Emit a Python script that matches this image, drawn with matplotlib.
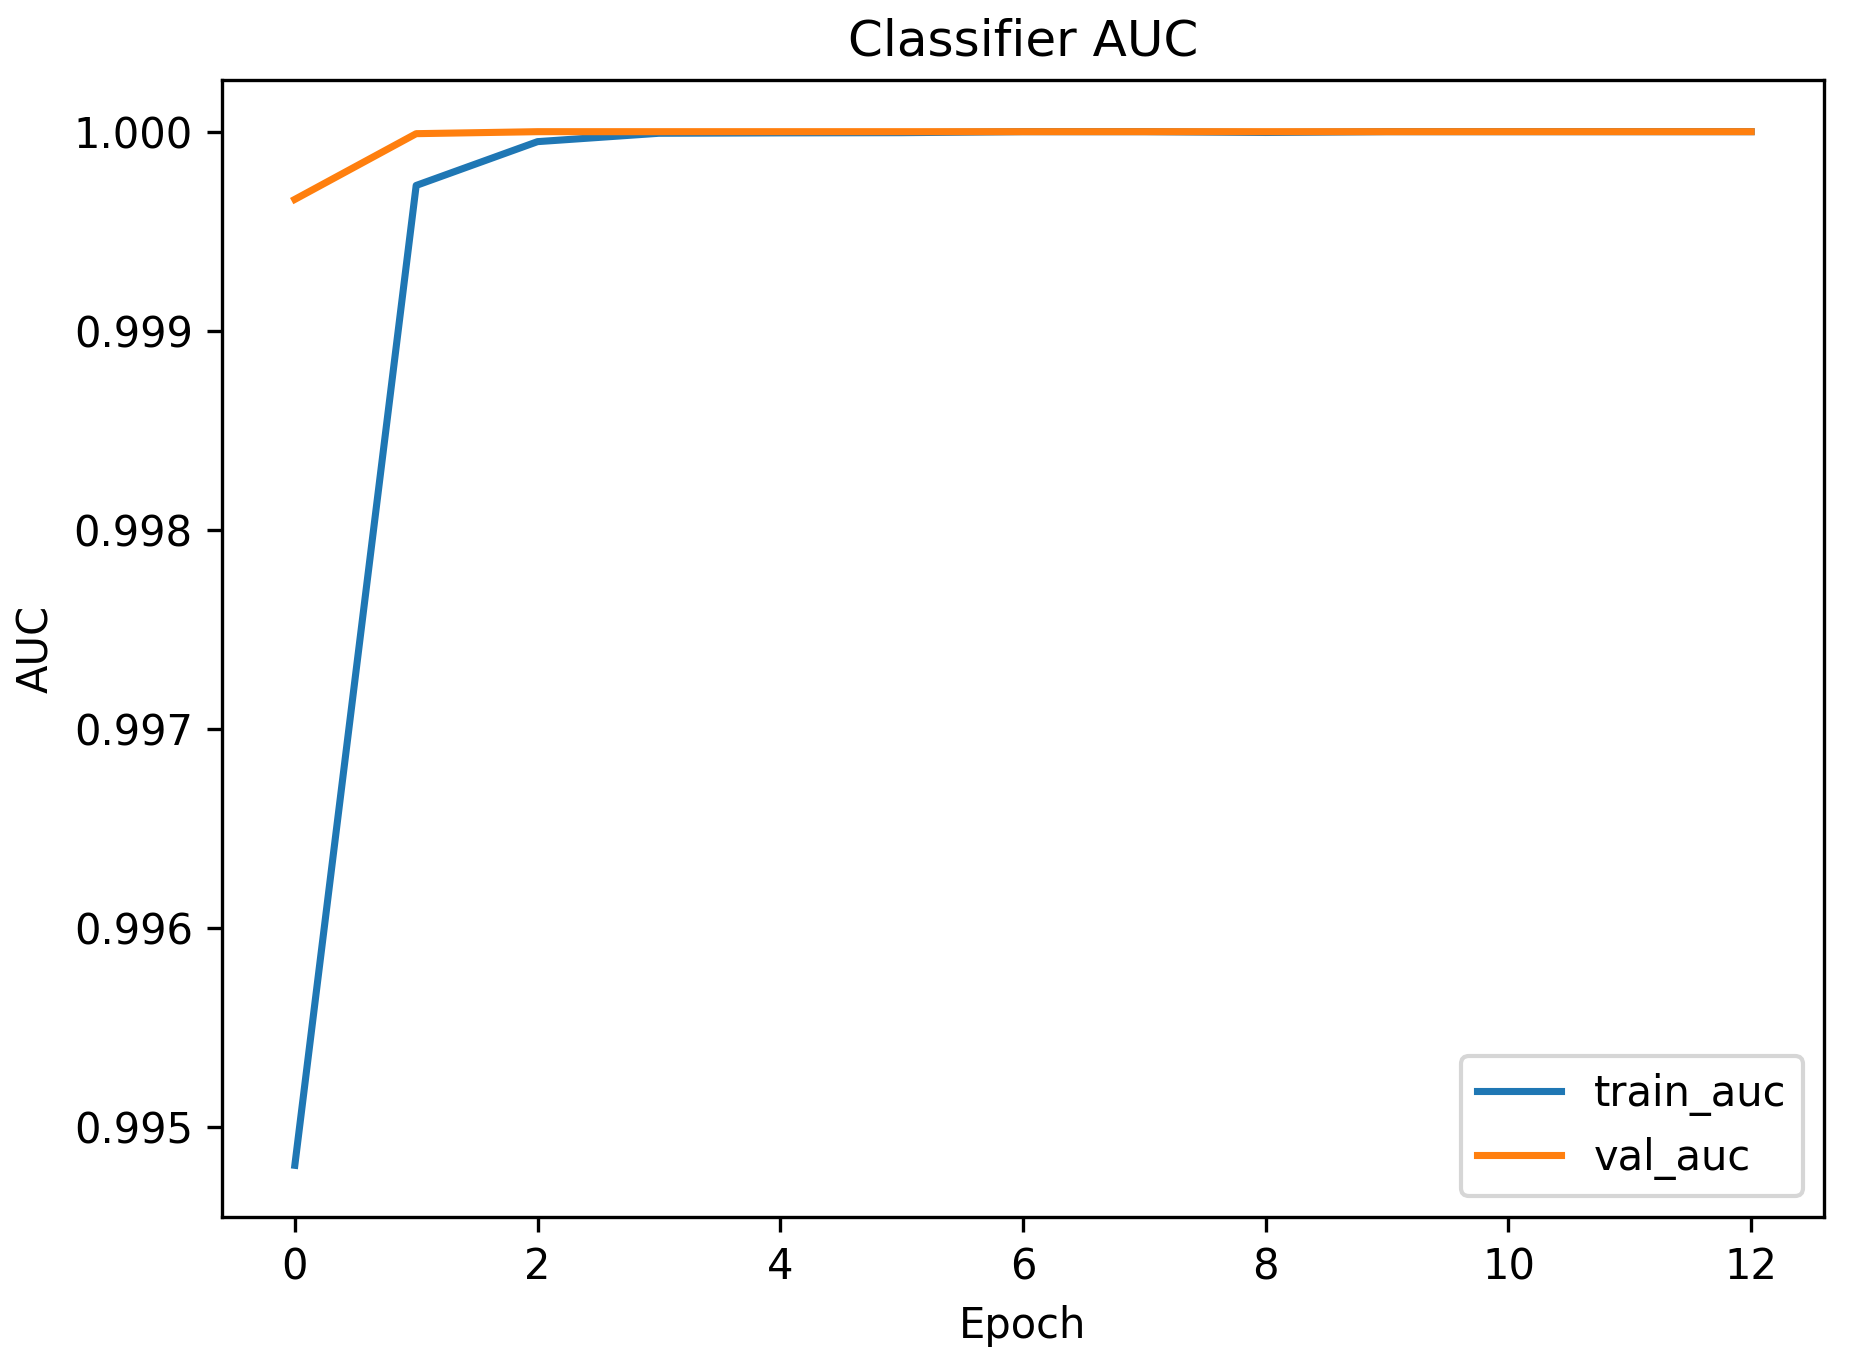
import matplotlib
matplotlib.use("Agg")
import matplotlib.pyplot as plt

# Values
epochs = list(range(13))
train_auc = [0.99481, 0.99973, 0.99995, 0.999992, 0.999994, 0.999995, 1.00000,
             1.00000, 0.999996, 1.00000, 1.00000, 1.00000, 1.00000]
val_auc = [0.99966, 0.99999, 1.00000, 1.00000, 1.00000, 1.00000, 1.00000,
           1.00000, 1.00000, 1.00000, 1.00000, 1.00000, 1.00000]


def main():
    fig = plt.figure(figsize=(1849 / 300, 1363 / 300), dpi=300)
    fig.subplots_adjust(left=222 / 1849, right=1824 / 1849,
                        top=1 - 80 / 1363, bottom=1 - 1217 / 1363)
    ax = fig.add_subplot(111)

    ax.plot(epochs, train_auc, label="train_auc", linewidth=1.7)
    ax.plot(epochs, val_auc, label="val_auc", linewidth=1.7)

    ax.set_title("Classifier AUC")
    ax.set_xlabel("Epoch")
    ax.set_ylabel("AUC")
    ax.legend(loc="lower right")

    fig.savefig("out.png", dpi=300)


if __name__ == '__main__':
    main()
